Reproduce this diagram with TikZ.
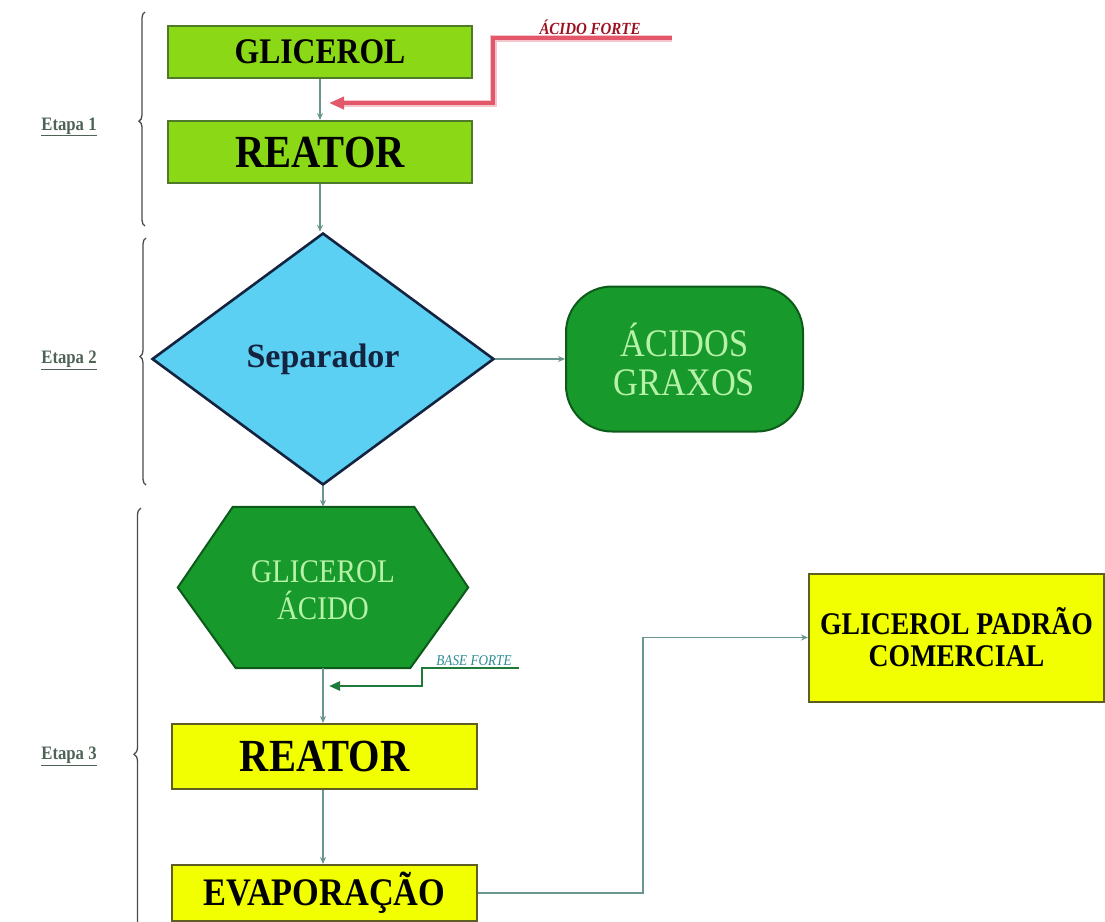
\documentclass[tikz,border=0pt]{standalone}
\usepackage{fontspec}
\setmainfont[FakeStretch=0.88]{Liberation Serif}
\newfontfamily\widefont{Liberation Serif}
\usetikzlibrary{arrows.meta,shapes.geometric,decorations.pathreplacing,calc}

\definecolor{limegreen}{HTML}{8BD817}
\definecolor{limeedge}{HTML}{4E7A2A}
\definecolor{skyfill}{HTML}{5CD0F2}
\definecolor{navyedge}{HTML}{14233F}
\definecolor{darkgreen}{HTML}{17992B}
\definecolor{darkgreenedge}{HTML}{0E5A1A}
\definecolor{palegreen}{HTML}{B6F2A8}
\definecolor{brightyellow}{HTML}{F2FF00}
\definecolor{yellowedge}{HTML}{5E5E22}
\definecolor{linkcol}{HTML}{6A9690}
\definecolor{acidred}{HTML}{E2586A}
\definecolor{acidtext}{HTML}{9E1020}
\definecolor{basegreen}{HTML}{1F7A3C}
\definecolor{basetext}{HTML}{2A8C94}
\definecolor{stagecol}{HTML}{4E6356}
\definecolor{bracecol}{HTML}{4A4A4A}

\tikzset{
  limebox/.style={draw=limeedge, line width=2pt, fill=limegreen, rectangle, inner sep=0pt, text=black},
  yellowbox/.style={draw=yellowedge, line width=2pt, fill=brightyellow, rectangle, inner sep=0pt, text=black},
  link/.style={draw=linkcol, line width=1.4pt, -{Stealth[length=7pt,width=6pt]}},
  stagebrace/.style={draw=bracecol, line width=1.3pt, decorate},
  stagelabel/.style={text=stagecol, font=\bfseries\fontsize{19}{21}\selectfont},
}

\newcommand{\ulabel}[1]{\underline{#1}}

\begin{document}
\begin{tikzpicture}[x=1pt, y=-1pt]
\useasboundingbox (0,0) rectangle (1105,921);

% ---------- Stage 1 ----------
\node[limebox, minimum width=304pt, minimum height=52pt,
      font=\bfseries\fontsize{36}{38}\selectfont] (glic) at (320,52) {GLICEROL};
\node[limebox, minimum width=304pt, minimum height=62pt,
      font=\bfseries\fontsize{46}{48}\selectfont] (reat1) at (320,152) {REATOR};

% ---------- Stage 2 ----------
\node[diamond, draw=navyedge, line width=2.6pt, fill=skyfill, inner sep=0pt,
      minimum width=342pt, minimum height=252pt, text=navyedge,
      font=\widefont\bfseries\fontsize{34}{36}\selectfont] (sep) at (323,359) {Separador};

\node[rectangle, rounded corners=46pt, draw=darkgreenedge, line width=2pt,
      fill=darkgreen, minimum width=237pt, minimum height=145pt, text=palegreen,
      align=center, font=\fontsize{39}{39}\selectfont] (graxos) at (684.5,359)
      {ÁCIDOS\\GRAXOS};

% ---------- Stage 3 ----------
\node[rectangle, minimum width=290pt, minimum height=161pt, inner sep=0pt] (hex) at (323,587.5) {};
\path[draw=darkgreenedge, line width=2pt, fill=darkgreen]
  (hex.west) -- ($(hex.north west)+(55,0)$) -- ($(hex.north east)+(-54,0)$)
  -- (hex.east) -- ($(hex.south east)+(-58,0)$) -- ($(hex.south west)+(58,0)$) -- cycle;
\node[text=palegreen, align=center, font=\fontsize{33}{37}\selectfont] (hexlabel) at (323,590)
  {GLICEROL\\ÁCIDO};

\node[yellowbox, minimum width=305pt, minimum height=65pt,
      font=\bfseries\fontsize{46}{48}\selectfont] (reat2) at (324.5,756.5) {REATOR};
\node[yellowbox, minimum width=305pt, minimum height=56pt,
      font=\bfseries\fontsize{39}{41}\selectfont] (evap) at (324.5,893) {EVAPORAÇÃO};
\node[yellowbox, minimum width=295pt, minimum height=128pt, align=center,
      font=\bfseries\fontsize{31.5}{32}\selectfont] (padrao) at (956.5,637.5)
      {GLICEROL PADRÃO\\COMERCIAL};

% ---------- Main flow ----------
\draw[link] (glic) -- (reat1);
\draw[link] (reat1.south) -- (reat1.south |- sep.north);
\draw[link] (sep.east) -- (sep.east -| graxos.west);
\draw[link] (sep.south) -- (hex.north);
\draw[link] (hex.south) -- (hex.south |- reat2.north);
\draw[link] (hex.south |- reat2.south) -- (hex.south |- evap.north);
\draw[link] (evap.east) -- ++(165,0) |- (padrao.west);

% ---------- Strong acid feed ----------
\coordinate (acidsrc) at (672,38);
\coordinate (acidin) at (329,103);
\draw[draw=acidred!35, line width=7pt, line join=miter] (acidsrc) -- ++(-179,0) |- ($(acidin)+(14,0)$);
\draw[draw=acidred, line width=3.6pt, line join=miter,
      -{Triangle[length=15pt,width=12pt]}] (acidsrc) -- ++(-179,0) |- (acidin);
\node[text=acidtext, font=\bfseries\itshape\fontsize{17}{19}\selectfont, anchor=base]
  (acidlabel) at (590,34) {ÁCIDO FORTE};

% ---------- Strong base feed ----------
\coordinate (basesrc) at (519,668);
\coordinate (basein) at (329,686);
\draw[draw=basegreen, line width=2.6pt, line join=miter,
      -{Triangle[length=11pt,width=9pt]}] (basesrc) -- ++(-97,0) |- (basein);
\node[text=basetext, font=\itshape\fontsize{15}{17}\selectfont, anchor=base]
  (baselabel) at (474,665) {BASE FORTE};

% ---------- Stage braces ----------
\draw[stagebrace, decoration={brace, amplitude=6pt, aspect=0.49}] (145,226) -- (145,12);
\draw[stagebrace, decoration={brace, amplitude=6pt, aspect=0.52}] (146,485) -- (146,238);
\draw[stagebrace, decoration={brace, amplitude=7pt, aspect=0.43}] (141,940) -- (141,508);

\node[stagelabel] (stage1) at (69,127) {\ulabel{Etapa 1}};
\node[stagelabel] (stage2) at (69,360) {\ulabel{Etapa 2}};
\node[stagelabel] (stage3) at (69,756) {\ulabel{Etapa 3}};

\end{tikzpicture}
\end{document}
